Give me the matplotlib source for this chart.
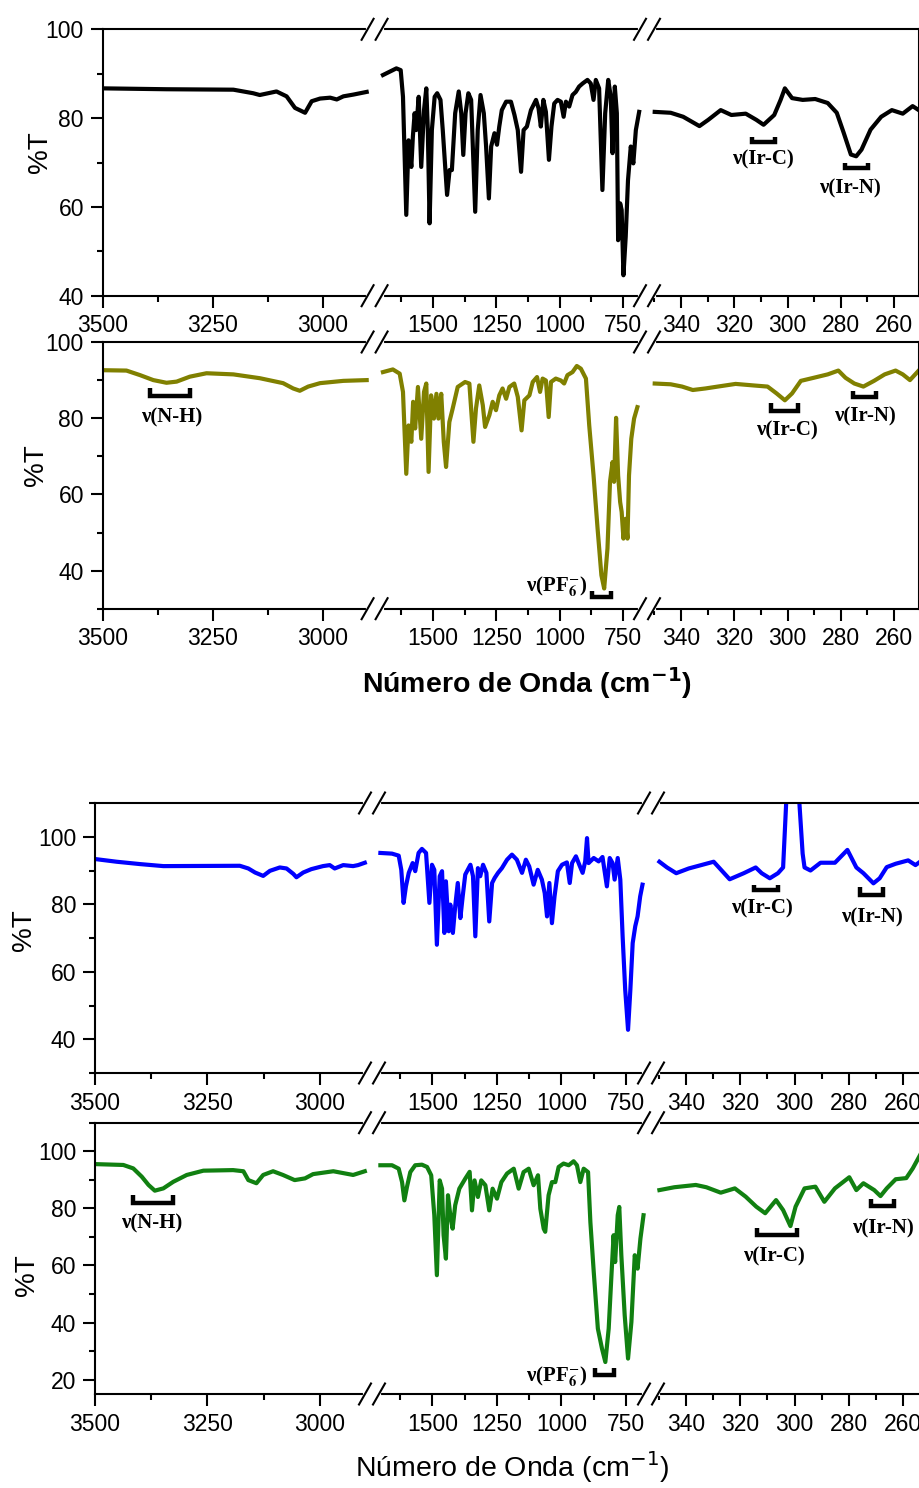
"""
FTIR spectra (%T vs wavenumber) of four samples, drawn as broken-axis panels.
"""
import matplotlib
matplotlib.use("Agg")
import matplotlib.pyplot as plt
from matplotlib.lines import Line2D
from matplotlib.ticker import MultipleLocator

plt.rcParams['font.family'] = ['Liberation Sans', 'DejaVu Sans']

W, H = 920, 1488  # figure size in pixels (dpi 100)

# ---------------- data: panel 1 (black) ----------------
P1_S1_WN = [3500, 3355, 3203, 3158, 3143, 3105, 3082, 3063, 3040, 3025, 3006, 2983, 2968, 2953, 2930, 2900]
P1_S1_T = [86.7, 86.5, 86.4, 85.6, 85.2, 86.0, 84.9, 82.3, 81.2, 83.8, 84.4, 84.6, 84.2, 84.9, 85.3, 85.9]
P1_S2_WN = [1697, 1644, 1627, 1618, 1605, 1596, 1585, 1579, 1572, 1566, 1556, 1546, 1535, 1526, 1520,
            1513, 1504, 1493, 1483, 1470, 1461, 1444, 1434, 1425, 1412, 1398, 1388, 1380, 1371, 1360,
            1349, 1333, 1323, 1312, 1299, 1290, 1279, 1270, 1257, 1247, 1238, 1228, 1211, 1192, 1178,
            1165, 1152, 1142, 1129, 1113, 1093, 1083, 1074, 1064, 1054, 1042, 1032, 1021, 1008, 995,
            984, 975, 962, 949, 936, 923, 909, 890, 877, 866, 857, 844, 831, 820, 808,
            798, 791, 782, 774, 769, 761, 755, 748, 739, 730, 719, 709, 699, 686]
P1_S2_T = [89.7, 91.2, 90.8, 84.8, 58.2, 75.0, 69.0, 75.8, 81.1, 77.3, 84.8, 69.0, 81.8, 86.7, 77.3,
           56.3, 77.3, 84.8, 85.6, 84.1, 77.3, 62.7, 68.3, 68.3, 81.1, 86.0, 81.1, 71.7, 81.1, 85.6,
           84.1, 58.9, 77.3, 85.2, 81.1, 73.6, 61.9, 73.6, 76.6, 74.0, 78.1, 81.8, 83.7, 83.7, 80.7,
           77.3, 67.9, 77.3, 78.1, 81.8, 84.1, 82.2, 78.1, 84.1, 81.4, 70.6, 78.1, 83.3, 84.1, 83.7,
           80.3, 83.7, 82.6, 85.2, 85.9, 87.1, 87.8, 88.6, 87.8, 84.1, 88.6, 86.7, 63.8, 81.1, 88.6,
           84.8, 72.1, 87.1, 81.1, 52.5, 60.8, 59.3, 44.6, 53.3, 66.0, 73.6, 69.8, 77.3, 81.4]
P1_S3_WN = [349.9, 343.9, 339.2, 333.1, 329.8, 325.1, 321.1, 315.7, 311.7, 309.0, 305.0, 302.6, 301.0, 298.3,
            294.3, 289.6, 284.9, 281.5, 278.9, 276.2, 274.2, 272.2, 268.8, 264.8, 260.8, 256.7, 253.0, 250.7]
P1_S3_T = [81.4, 81.2, 80.3, 78.2, 79.6, 81.8, 80.7, 81.0, 79.6, 78.5, 80.7, 84.1, 86.7, 84.5,
           84.1, 84.3, 83.4, 81.2, 76.7, 71.8, 71.4, 72.9, 77.4, 80.3, 81.8, 81.0, 82.7, 81.8]

# ---------------- data: panel 2 (olive) ----------------
P2_S1_WN = [3500, 3446, 3415, 3385, 3355, 3332, 3302, 3264, 3203, 3143, 3090, 3067, 3052, 3033, 3006, 2953, 2900]
P2_S1_T = [92.6, 92.5, 91.3, 90.0, 89.3, 89.6, 90.9, 91.8, 91.5, 90.5, 89.2, 87.8, 87.2, 88.3, 89.2, 89.8, 90.0]
P2_S2_WN = [1697, 1658, 1631, 1618, 1605, 1596, 1585, 1578, 1570, 1559, 1546, 1535, 1526, 1517, 1507,
            1496, 1486, 1478, 1467, 1457, 1448, 1435, 1422, 1402, 1373, 1356, 1340, 1330, 1317, 1303,
            1294, 1277, 1264, 1251, 1238, 1225, 1211, 1198, 1179, 1165, 1150, 1139, 1119, 1106, 1089,
            1077, 1067, 1054, 1043, 1034, 1015, 995, 982, 969, 949, 932, 916, 896, 883, 866,
            850, 835, 824, 811, 801, 791, 785, 777, 769, 761, 755, 748, 739, 732, 726, 717, 706, 693]
P2_S2_T = [92.1, 92.8, 91.7, 86.9, 65.4, 78.1, 73.8, 84.3, 77.3, 88.2, 74.6, 86.9, 89.1, 65.9, 86.0,
           79.9, 86.4, 79.9, 86.4, 73.8, 67.2, 79.0, 82.5, 88.2, 89.5, 89.1, 73.8, 82.5, 88.6, 83.4,
           77.7, 80.8, 84.3, 82.1, 86.0, 87.8, 85.1, 88.2, 89.1, 85.6, 76.8, 84.7, 86.0, 89.5, 90.8,
           86.9, 90.4, 89.9, 80.3, 89.5, 90.4, 89.9, 89.1, 91.3, 92.1, 93.7, 93.0, 90.4, 78.1, 65.0,
           51.0, 38.8, 35.3, 45.8, 63.3, 68.5, 63.3, 80.1, 65.0, 58.0, 55.4, 48.4, 53.6, 48.4, 65.0, 74.6, 79.9, 82.9]
P2_S3_WN = [349.9, 343.9, 339.6, 335.6, 330.9, 326.2, 319.5, 312.8, 307.5, 304.1, 301.0, 298.3, 295.0,
            290.2, 284.9, 280.9, 278.2, 274.9, 271.5, 267.5, 263.5, 259.4, 256.7, 254.0, 250.7]
P2_S3_T = [89.1, 88.9, 88.3, 87.4, 87.8, 88.3, 89.0, 88.6, 88.3, 86.5, 84.7, 86.5, 89.8,
           90.6, 91.5, 92.5, 90.6, 89.1, 88.3, 89.8, 91.5, 92.5, 91.5, 90.0, 92.5]

# ---------------- data: panel 3 (blue) ----------------
P3_S1_WN = [3500, 3452, 3400, 3348, 3178, 3159, 3144, 3126, 3111, 3089, 3074, 3059, 3052, 3037, 3019,
            2993, 2978, 2967, 2948, 2926, 2915, 2900]
P3_S1_T = [93.4, 92.6, 91.9, 91.3, 91.4, 90.6, 89.4, 88.4, 89.9, 90.9, 90.6, 89.0, 88.0, 89.4, 90.4,
           91.3, 91.6, 90.6, 91.6, 91.3, 91.6, 92.3]
P3_S2_WN = [1702, 1657, 1631, 1621, 1612, 1603, 1592, 1577, 1567, 1554, 1541, 1525, 1512, 1502, 1493,
            1483, 1472, 1463, 1454, 1448, 1437, 1431, 1421, 1412, 1402, 1392, 1383, 1373, 1353, 1343,
            1334, 1324, 1315, 1304, 1291, 1280, 1269, 1259, 1246, 1231, 1211, 1192, 1173, 1153, 1138,
            1125, 1108, 1092, 1076, 1065, 1056, 1047, 1037, 1027, 1014, 998, 979, 968, 959, 944,
            931, 918, 908, 901, 895, 875, 856, 841, 824, 813, 802, 794, 782, 772, 763,
            753, 742, 733, 724, 714, 705, 695, 686]
P3_S2_T = [95.2, 95.0, 94.4, 90.2, 80.4, 85.3, 89.3, 92.2, 89.8, 95.2, 96.4, 95.2, 80.4, 91.7, 90.2,
           68.0, 88.3, 89.8, 71.5, 86.8, 72.0, 79.9, 71.5, 79.4, 86.3, 75.9, 82.3, 88.8, 91.7, 88.3,
           70.5, 90.7, 88.3, 91.7, 89.3, 74.9, 86.3, 87.8, 89.3, 90.7, 93.2, 94.7, 93.2, 89.3, 93.2,
           91.2, 85.8, 90.2, 87.3, 83.3, 76.4, 86.3, 74.4, 82.3, 89.8, 91.7, 92.4, 86.3, 92.2, 94.2,
           91.7, 89.3, 92.7, 99.6, 92.2, 93.7, 92.7, 94.0, 85.3, 93.7, 92.2, 87.3, 93.7, 87.3, 70.5,
           54.7, 42.8, 54.7, 68.5, 73.5, 76.4, 82.3, 85.8]
P3_S3_WN = [349.8, 347.0, 343.6, 339.0, 329.8, 323.9, 318.7, 314.3, 312.1, 309.1, 306.1, 304.2, 301.0, 297.0,
            296.3, 294.1, 290.4, 285.1, 280.5, 277.2, 274.6, 270.9, 268.6, 266.0, 262.7, 258.1, 255.4, 253.7]
P3_S3_T = [92.6, 90.9, 89.2, 90.6, 92.6, 87.4, 89.2, 90.9, 89.2, 87.7, 89.2, 90.9, 145.0, 95.0,
           90.9, 90.0, 92.3, 92.3, 96.1, 90.9, 89.2, 86.2, 87.7, 91.0, 92.0, 93.0, 91.6, 92.6]

# ---------------- data: panel 4 (green) ----------------
P4_S1_WN = [3500, 3437, 3415, 3396, 3381, 3367, 3348, 3326, 3296, 3259, 3193, 3170, 3159, 3141, 3126,
            3104, 3082, 3056, 3033, 3015, 2970, 2926, 2900]
P4_S1_T = [95.5, 95.2, 94.0, 91.1, 88.2, 86.2, 87.0, 89.3, 91.7, 93.2, 93.4, 93.0, 89.9, 88.8, 91.7,
           93.0, 91.7, 89.9, 90.5, 92.0, 93.0, 91.7, 93.0]
P4_S2_WN = [1702, 1657, 1631, 1618, 1609, 1599, 1586, 1567, 1541, 1521, 1505, 1493, 1483, 1472, 1463,
            1457, 1448, 1440, 1431, 1422, 1412, 1396, 1373, 1356, 1347, 1337, 1324, 1311, 1295, 1280,
            1267, 1250, 1233, 1211, 1185, 1166, 1147, 1127, 1108, 1091, 1082, 1069, 1063, 1050, 1037,
            1024, 1011, 992, 972, 953, 940, 927, 914, 897, 888, 875, 859, 843, 830, 817,
            807, 798, 792, 782, 776, 768, 755, 742, 729, 716, 705, 694, 682]
P4_S2_T = [95.1, 95.1, 93.9, 89.2, 82.8, 87.5, 92.7, 95.1, 95.3, 94.5, 91.6, 77.6, 56.6, 89.8, 86.9,
           70.6, 62.4, 84.6, 77.6, 72.9, 81.1, 86.9, 90.4, 92.8, 79.3, 89.8, 84.0, 89.8, 88.1, 79.3,
           86.9, 83.4, 89.2, 92.2, 93.9, 86.9, 92.7, 93.9, 88.1, 91.6, 79.9, 72.9, 71.8, 84.6, 89.2,
           89.2, 94.5, 95.7, 95.1, 96.5, 95.1, 89.2, 93.9, 92.7, 75.2, 57.8, 37.9, 30.9, 26.2, 37.9,
           55.4, 70.6, 61.2, 77.6, 80.5, 63.6, 42.6, 27.4, 40.2, 63.6, 58.9, 69.4, 77.6]
P4_S3_WN = [349.8, 344.3, 336.4, 332.5, 327.2, 322.0, 318.0, 314.1, 310.8, 306.8, 304.2, 301.5, 299.6, 296.3,
            292.3, 289.0, 285.1, 279.8, 277.2, 274.6, 270.6, 268.3, 266.0, 262.7, 258.8, 256.4, 253.7]
P4_S3_T = [86.4, 87.4, 88.2, 87.4, 85.5, 87.0, 84.1, 80.6, 78.3, 82.9, 79.4, 73.8, 80.6, 87.0,
           87.6, 82.3, 87.0, 90.9, 86.4, 88.8, 86.4, 84.3, 87.0, 90.2, 90.6, 94.0, 98.7]

# band assignments: (segment, x_left, x_right, base, top, label, label_x, label_y)
P1_BANDS = [(2, 313.4, 304.7, 74.6, 75.8, 'ν(Ir-C)', 309.2, 70.6),
            (2, 278.5, 269.9, 68.7, 69.8, 'ν(Ir-N)', 276.7, 64.1)]
P2_BANDS = [(0, 3392, 3302, 85.8, 87.9, 'ν(N-H)', 3344, 80.3),
            (1, 874, 798, 33.0, 34.7, 'ν(PF$_\\mathbf{6}^{-}$)', 1012, 35.7),
            (2, 306.3, 295.9, 81.9, 83.9, 'ν(Ir-C)', 300.3, 76.9),
            (2, 275.4, 266.7, 85.5, 87.2, 'ν(Ir-N)', 271.0, 80.4)]
P3_BANDS = [(2, 315.1, 306.2, 84.3, 85.7, 'ν(Ir-C)', 312.1, 78.8),
            (2, 275.9, 267.4, 82.8, 85.0, 'ν(Ir-N)', 271.3, 76.1)]
P4_BANDS = [(0, 3415, 3326, 81.9, 84.7, 'ν(N-H)', 3374, 74.8),
            (1, 872, 795, 21.8, 24.0, 'ν(PF$_\\mathbf{6}^{-}$)', 1021, 21.0),
            (2, 313.8, 298.9, 70.6, 73.0, 'ν(Ir-C)', 307.5, 63.1),
            (2, 271.9, 263.3, 81.0, 83.2, 'ν(Ir-N)', 267.4, 73.0)]

# layout (pixels) of the two groups of broken axes
TOP_SEGS = [(102.7, 374.6), (374.6, 647), (647, 919)]
TOP_XLIMS = [(3500, 2882), (1730, 655), (352.8, 250.6)]
BOT_SEGS = [(95, 372), (372, 651), (651, 930)]
BOT_XLIMS = [(3500, 2884), (1734.5, 653), (352.9, 250.05)]


def fxy(x, y):
    return x / W, 1 - y / H


def draw_break(fig, bx, sy):
    """Origin-style // break mark on a spine, with a gap between the slashes."""
    (xa, ya), (xb, _) = fxy(bx - 7, sy), fxy(bx + 7, sy)
    fig.add_artist(Line2D([xa, xb], [ya, ya], color='white', lw=3, transform=fig.transFigure))
    for off in (-7, 7):
        x0, y0 = fxy(bx + off - 6, sy + 10.5)
        x1, y1 = fxy(bx + off + 6, sy - 10.5)
        fig.add_artist(Line2D([x0, x1], [y0, y1], color='black', lw=1.5, transform=fig.transFigure))


def draw_panel(fig, segs, xlims, y_top, y_bot, ylim, color, series, bands, ylabel_xy):
    axes = []
    for i, ((x0, x1), xl) in enumerate(zip(segs, xlims)):
        ax = fig.add_axes([x0 / W, 1 - y_bot / H, (x1 - x0) / W, (y_bot - y_top) / H])
        wn, t = series[i]
        ax.plot(wn, t, color=color, lw=3.0, solid_joinstyle='round')
        ax.set_xlim(*xl)
        ax.set_ylim(*ylim)
        ax.patch.set_alpha(0)

        if i < 2:
            ax.xaxis.set_major_locator(MultipleLocator(250))
            ax.xaxis.set_minor_locator(MultipleLocator(125))
        else:
            ax.xaxis.set_major_locator(MultipleLocator(20))
            ax.xaxis.set_minor_locator(MultipleLocator(10))
        ax.yaxis.set_major_locator(MultipleLocator(20))
        ax.yaxis.set_minor_locator(MultipleLocator(10))

        for sp in ax.spines.values():
            sp.set_linewidth(1.5)
        if i > 0:
            ax.spines['left'].set_visible(False)
        if i < 2:
            ax.spines['right'].set_visible(False)

        ax.tick_params(which='both', direction='out', width=1.5, top=False, right=False,
                       left=(i == 0), labelleft=(i == 0))
        ax.tick_params(which='major', length=8.5, labelsize=16.5, pad=5)
        ax.tick_params(which='minor', length=4.3)
        axes.append(ax)

    for seg, xa, xb, base, top, label, lx, ly in bands:
        ax = axes[seg]
        ax.plot([xa, xa, xb, xb], [top, base, base, top], color='black', lw=3.2,
                solid_capstyle='butt', solid_joinstyle='miter', clip_on=False)
        ax.text(lx, ly, label, ha='center', va='center', fontsize=15,
                family='Liberation Serif', weight='bold', math_fontfamily='stix')

    for bx in (segs[0][1], segs[1][1]):
        draw_break(fig, bx, y_top)
        draw_break(fig, bx, y_bot)

    tx, ty = fxy(*ylabel_xy)
    fig.text(tx, ty, '%T', rotation=90, ha='center', va='center', fontsize=20)
    return axes


fig = plt.figure(figsize=(W / 100, H / 100), dpi=100)

draw_panel(fig, TOP_SEGS, TOP_XLIMS, 29.3, 295.7, (40, 100), '#000000',
           [(P1_S1_WN, P1_S1_T), (P1_S2_WN, P1_S2_T), (P1_S3_WN, P1_S3_T)], P1_BANDS, (40, 152))
draw_panel(fig, TOP_SEGS, TOP_XLIMS, 342, 608.7, (30, 100), '#808000',
           [(P2_S1_WN, P2_S1_T), (P2_S2_WN, P2_S2_T), (P2_S3_WN, P2_S3_T)], P2_BANDS, (36, 465))
draw_panel(fig, BOT_SEGS, BOT_XLIMS, 803, 1073, (30, 110), '#0000ff',
           [(P3_S1_WN, P3_S1_T), (P3_S2_WN, P3_S2_T), (P3_S3_WN, P3_S3_T)], P3_BANDS, (24, 930))
draw_panel(fig, BOT_SEGS, BOT_XLIMS, 1122.7, 1394, (15, 110), '#118011',
           [(P4_S1_WN, P4_S1_T), (P4_S2_WN, P4_S2_T), (P4_S3_WN, P4_S3_T)], P4_BANDS, (27, 1275))

x, y = fxy(527, 683)
fig.text(x, y, r'Número de Onda (cm$^{\mathbf{-1}}$)', ha='center', va='center',
         fontsize=20.5, weight='bold', math_fontfamily='dejavusans')
x, y = fxy(512, 1467)
fig.text(x, y, r'Número de Onda (cm$^{-1}$)', ha='center', va='center',
         fontsize=20.5, math_fontfamily='dejavusans')

fig.savefig('out.png', dpi=100)
